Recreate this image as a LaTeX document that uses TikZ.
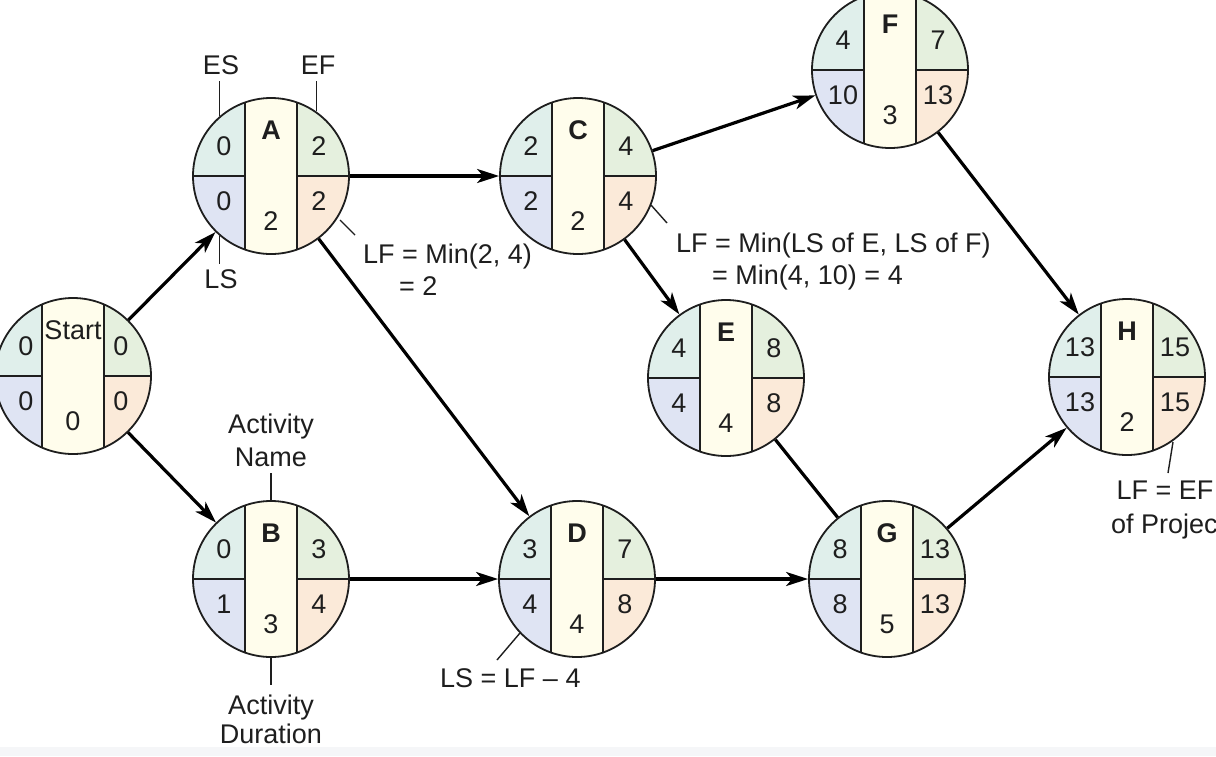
\documentclass[tikz,border=0pt]{standalone}
\usepackage{fontspec}
\setmainfont{Liberation Sans}
\usetikzlibrary{arrows.meta,calc}
\definecolor{esc}{HTML}{E0EFEB}
\definecolor{lsc}{HTML}{DFE4F3}
\definecolor{efc}{HTML}{E5F0DE}
\definecolor{lfc}{HTML}{FBEAD9}
\definecolor{durc}{HTML}{FFFDEC}
\definecolor{linec}{HTML}{1E1E1E}
\definecolor{stripc}{HTML}{F5F6F8}
\tikzset{
  act/.style={circle, minimum size=156pt, inner sep=0pt, draw=linec, line width=1.8pt},
  inner/.style={draw=linec, line width=1.4pt},
  txt/.style={inner sep=0pt, text=linec, font=\fontsize{27}{32}\selectfont},
  ann/.style={inner sep=0pt, text=linec, font=\fontsize{27}{32}\selectfont},
  arr/.style={draw=black, line width=3.2pt, -{Stealth[length=22pt,width=14pt,inset=6pt]}},
  plainline/.style={draw=black, line width=3.2pt},
  lead/.style={draw=linec, line width=1.4pt}
}
\newcommand\actnode[9][26]{%
 \begin{scope}[shift={(#3)}]
  \begin{scope}
   \clip (0,0) circle[radius=78pt];
   \fill[esc] (-80,-80) rectangle (-#1,0);
   \fill[lsc] (-80,0) rectangle (-#1,80);
   \fill[efc] (#1,-80) rectangle (80,0);
   \fill[lfc] (#1,0) rectangle (80,80);
   \fill[durc] (-#1,-80) rectangle (#1,80);
   \draw[inner] (-#1,-80) -- (-#1,80) (#1,-80) -- (#1,80) (-80,0) -- (-#1,0) (#1,0) -- (80,0);
  \end{scope}
  \node[act] (#2) at (0,0) {};
  \node[txt] (#2-n) at (0,-46) {#4};
  \node[txt] (#2-es) at (-47,-30) {#5};
  \node[txt] (#2-ef) at (48,-30) {#6};
  \node[txt] (#2-ls) at (-47,25) {#7};
  \node[txt] (#2-lf) at (48,25) {#8};
  \node[txt] (#2-d) at (0,45) {#9};
 \end{scope}}
\begin{document}
\begin{tikzpicture}[x=1pt,y=-1pt]
\useasboundingbox (0,0) rectangle (1216,756);
\fill[white] (0,0) rectangle (1216,756);
\fill[stripc] (0,747) rectangle (1216,756);

\actnode[31]{Start}{73,376}{Start}{0}{0}{0}{0}{0}
\actnode{A}{271,176}{\bfseries A}{0}{2}{0}{2}{2}
\actnode{B}{271,579}{\bfseries B}{0}{3}{1}{4}{3}
\actnode{C}{578,176}{\bfseries C}{2}{4}{2}{4}{2}
\actnode{D}{577,579}{\bfseries D}{3}{7}{4}{8}{4}
\actnode{E}{726,378}{\bfseries E}{4}{8}{4}{8}{4}
\actnode{F}{890,70}{\bfseries F}{4}{7}{10}{13}{3}
\actnode{G}{887,579}{\bfseries G}{8}{13}{8}{13}{5}
\actnode{H}{1127,377}{\bfseries H}{13}{15}{13}{15}{2}

% connectors
\draw[arr] (Start) -- (A);
\draw[arr] (Start) -- (B);
\draw[arr] (A) -- (C);
\draw[arr] (A) -- (D);
\draw[arr] (B) -- (D);
\draw[arr] (C) -- (F);
\draw[arr] (C) -- (E);
\draw[arr] (F) -- (H);
\draw[plainline] (E) -- (G);
\draw[arr] (D) -- (G);
\draw[arr] (G) -- (H);

% annotations around A
\draw[lead] (A.131) -- ++(0,-35);
\node[ann] (lblES) at (221,65) {ES};
\draw[lead] (A.55) -- ++(0,-30);
\node[ann] (lblEF) at (318,65) {EF};
\draw[lead] (A.229) -- ++(0,28);
\node[ann] (lblLS) at (221,279) {LS};
\draw[lead] ([shift={(69,44)}]A.center) -- ++(15,15);
\node[ann, anchor=base west] (lfA1) at (363,263) {LF = Min(2, 4)};
\node[ann, anchor=base west] (lfA2) at (399,295) {= 2};

% annotations around C
\draw[lead] ([shift={(73,29)}]C.center) -- ++(16,18);
\node[ann, anchor=base west] (lfC1) at (676,252) {LF = Min(LS of E, LS of F)};
\node[ann, anchor=base west] (lfC2) at (712,284) {= Min(4, 10) = 4};

% annotations around B
\draw[lead] (B.90) -- ++(0,-27);
\node[ann, anchor=base] (bn1) at (271,433) {Activity};
\node[ann, anchor=base] (bn2) at (271,466) {Name};
\draw[lead] (B.270) -- ++(0,27);
\node[ann, anchor=base] (bd1) at (271,714) {Activity};
\node[ann, anchor=base] (bd2) at (271,743) {Duration};

% annotation D
\draw[lead] ([shift={(-57,54)}]D.center) -- ++(-23,27);
\node[ann, anchor=base west] (lsD) at (440,687) {LS = LF – 4};

% annotation H
\draw[lead] ([shift={(46,65)}]H.center) -- ++(-5,31);
\node[ann, anchor=base] (lfH1) at (1165,499) {LF = EF};
\node[ann, anchor=base west] (lfH2) at (1111,533) {of Project};
\end{tikzpicture}
\end{document}
